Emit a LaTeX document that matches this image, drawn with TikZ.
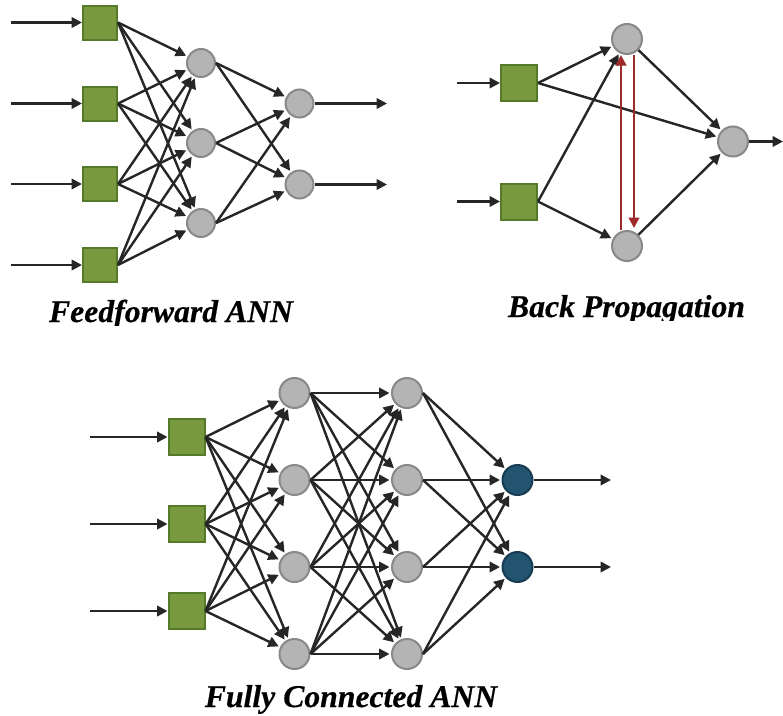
\documentclass[tikz,border=0pt]{standalone}
\usepackage{fontspec}
\setmainfont{Liberation Serif}
\newfontfamily\capfont{Liberation Serif}[BoldItalicFeatures={FakeBold=0.5}]
\usetikzlibrary{arrows.meta}
\definecolor{sqfill}{HTML}{79993F}
\definecolor{sqline}{HTML}{557A2A}
\definecolor{cfill}{HTML}{B4B4B4}
\definecolor{cline}{HTML}{888888}
\definecolor{bfill}{HTML}{22536F}
\definecolor{bline}{HTML}{173B52}
\definecolor{wire}{HTML}{262626}
\definecolor{backred}{HTML}{9E2A2A}
\tikzset{
  inbox/.style={rectangle, fill=sqfill, draw=sqline, line width=2pt, minimum size=#1, inner sep=0pt},
  inbox/.default=35pt,
  neuron/.style={circle, fill=cfill, draw=cline, line width=2pt, minimum size=#1, inner sep=0pt},
  neuron/.default=29pt,
  outneuron/.style={circle, fill=bfill, draw=bline, line width=2pt, minimum size=30pt, inner sep=0pt},
  link/.style={draw=wire, line width=2.4pt, -{Triangle[length=10.5pt,width=10.5pt]}, shorten >=1.5pt},
  backlink/.style={draw=backred, line width=2.6pt, -{Triangle[length=10.5pt,width=10.5pt]}},
  caption/.style={font=\capfont\fontsize{31.7}{38}\selectfont\bfseries\itshape, inner sep=0pt, anchor=base}
}
\begin{document}
\begin{tikzpicture}[x=1pt,y=-1pt]
\useasboundingbox (0,0) rectangle (783,715);

% ---------- Feedforward ANN ----------
\foreach \i/\y in {1/22.5,2/103.5,3/184,4/265}{
  \node[inbox=34pt] (f\i) at (100,\y) {};
  \coordinate (fi\i) at (11,\y);
  \draw[link, shorten >=0pt] (fi\i) -- (f\i.west);
}
\foreach \j/\y in {1/63,2/143,3/223}
  \node[neuron=28pt] (fh\j) at (201,\y) {};
\foreach \k/\y in {1/103.5,2/184.5}{
  \node[neuron=28pt] (fo\k) at (299.5,\y) {};
  \coordinate (fe\k) at (387,\y);
  \draw[link, shorten >=0pt] (fo\k.east) -- (fe\k);
}
\foreach \i in {1,...,4}
  \foreach \j in {1,2,3}
    \draw[link] (f\i.east) -- (fh\j);
\foreach \j in {1,2,3}
  \foreach \k in {1,2}
    \draw[link] (fh\j.east) -- (fo\k);
\begin{scope}
  \clip (0,290) rectangle (400,325);
  \node[caption] (capff) at (171,322) {Feedforward ANN};
\end{scope}

% ---------- Back Propagation ----------
\node[inbox=36pt] (b1) at (519,83) {};
\node[inbox=36pt] (b2) at (519,201.5) {};
\node[neuron=30pt] (bt) at (627,39) {};
\node[neuron=30pt] (bb) at (627,246) {};
\node[neuron=30pt] (bo) at (733,141.5) {};
\coordinate (bi1) at (457,83);
\coordinate (bi2) at (457,201.5);
\coordinate (bend) at (783,141.5);
\draw[link, shorten >=0pt] (bi1) -- (b1.west);
\draw[link, shorten >=0pt] (bi2) -- (b2.west);
\draw[link] (b1.east) -- (bt);
\draw[link] (b1.east) -- (bo);
\draw[link] (b2.east) -- (bt);
\draw[link] (b2.east) -- (bb);
\draw[link] (bt) -- (bo);
\draw[link] (bb) -- (bo);
\draw[link, shorten >=0pt] (bo.east) -- (bend);
\coordinate (rupa) at (621,230);
\coordinate (rupb) at (621,55);
\coordinate (rdna) at (634,55);
\coordinate (rdnb) at (634,228);
\draw[backlink] (rupa) -- (rupb);
\draw[backlink] (rdna) -- (rdnb);
\begin{scope}
  \clip (420,290) rectangle (783,320);
  \node[caption] (capbp) at (626.5,317) {Back Propagation};
\end{scope}

% ---------- Fully Connected ANN ----------
\foreach \i/\y in {1/437,2/524,3/611}{
  \node[inbox=36pt] (s\i) at (186.5,\y) {};
  \coordinate (si\i) at (90,\y);
  \draw[link, shorten >=0pt] (si\i) -- (s\i.west);
}
\foreach \j/\y in {1/393,2/480,3/567,4/654}{
  \node[neuron=30pt] (p\j) at (294.5,\y) {};
  \node[neuron=30pt] (q\j) at (407,\y) {};
}
\foreach \k/\y in {1/480,2/567}{
  \node[outneuron] (r\k) at (517.5,\y) {};
  \coordinate (re\k) at (611,\y);
  \draw[link, shorten >=0pt] (r\k.east) -- (re\k);
}
\foreach \i in {1,2,3}
  \foreach \j in {1,...,4}
    \draw[link] (s\i.east) -- (p\j);
\foreach \i in {1,...,4}
  \foreach \j in {1,...,4}
    \draw[link] (p\i.east) -- (q\j);
\foreach \i in {1,...,4}
  \foreach \k in {1,2}
    \draw[link] (q\i.east) -- (r\k);
\node[caption] (capfc) at (351,707) {Fully Connected ANN};
\end{tikzpicture}
\end{document}
